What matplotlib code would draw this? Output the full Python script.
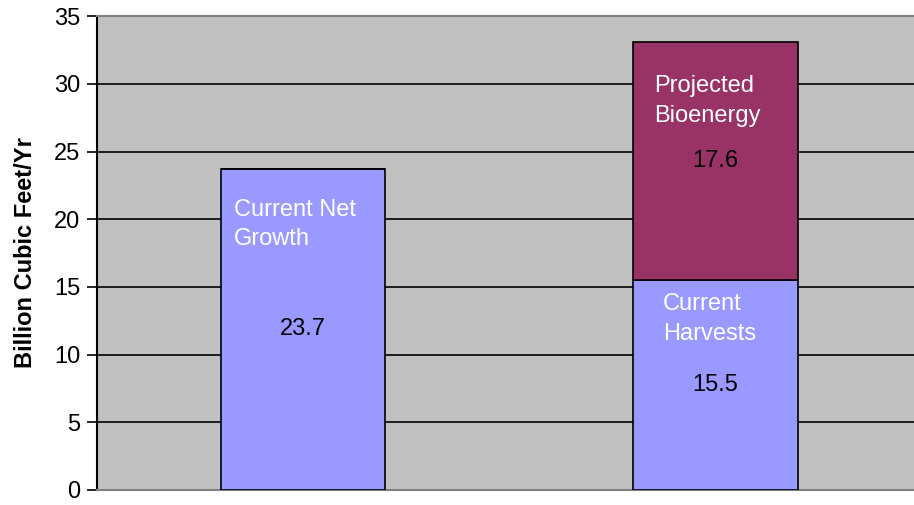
import matplotlib
matplotlib.use('Agg')
import matplotlib.pyplot as plt

# Data
categories = ["Current Net Growth", "Projected Use"]
base_values = [23.7, 15.5]
base_labels = ["Current Net\nGrowth", "Current\nHarvests"]
top_values = [0.0, 17.6]
top_labels = ["", "Projected\nBioenergy"]
y_ticks = [0, 5, 10, 15, 20, 25, 30, 35]

plt.rcParams['font.family'] = ['Liberation Sans', 'DejaVu Sans']

fig = plt.figure(figsize=(9.14, 5.05), dpi=100)
ax = fig.add_axes([0.106, 0.03, 0.902, 0.938])
ax.set_facecolor("#C0C0C0")

x = list(range(len(categories)))
bar_width = 0.4
fs = 17

ax.bar(x, base_values, width=bar_width, color="#9999FF",
       edgecolor="black", linewidth=1.2, zorder=3)
ax.bar(x, top_values, bottom=base_values, width=bar_width, color="#993366",
       edgecolor="black", linewidth=1.2, zorder=3)

# name label offsets (below segment top) and left indents, per bar
base_drop = [4.1, 2.9]
base_indent = [0.032, 0.073]
top_drop = [0.0, 4.35]
top_indent = [0.0, 0.051]

for i in x:
    if base_values[i] > 0:
        seg_top = base_values[i]
        ax.text(i - bar_width / 2 + base_indent[i], seg_top - base_drop[i],
                base_labels[i], color="white", fontsize=fs, ha="left",
                va="center", linespacing=1.45, zorder=4)
        ax.text(i, seg_top / 2, f"{base_values[i]:.1f}", color="black",
                fontsize=fs, ha="center", va="center", zorder=4)
    if top_values[i] > 0:
        seg_top = base_values[i] + top_values[i]
        ax.text(i - bar_width / 2 + top_indent[i], seg_top - top_drop[i],
                top_labels[i], color="white", fontsize=fs, ha="left",
                va="center", linespacing=1.45, zorder=4)
        ax.text(i, base_values[i] + top_values[i] / 2,
                f"{top_values[i]:.1f}", color="black", fontsize=fs,
                ha="center", va="center", zorder=4)

ax.set_xlim(-0.5, 1.5)
ax.set_ylim(0, 35)
ax.set_yticks(y_ticks)
ax.set_yticklabels([str(t) for t in y_ticks], fontsize=fs)
ax.set_xticks([])

ax.grid(axis="y", color="black", linewidth=1.2, zorder=1)
ax.set_axisbelow(True)

ax.spines["left"].set_color("black")
ax.spines["left"].set_linewidth(1.5)
ax.spines["top"].set_color("#808080")
ax.spines["bottom"].set_color("#808080")
ax.spines["top"].set_linewidth(1.5)
ax.spines["bottom"].set_linewidth(1.5)
ax.spines["right"].set_visible(False)
ax.tick_params(axis="y", direction="out", length=7, width=1.2, pad=5)

ax.set_ylabel("Billion Cubic Feet/Yr", fontsize=fs, fontweight="bold",
              labelpad=12)

fig.savefig("out.png", dpi=100)
